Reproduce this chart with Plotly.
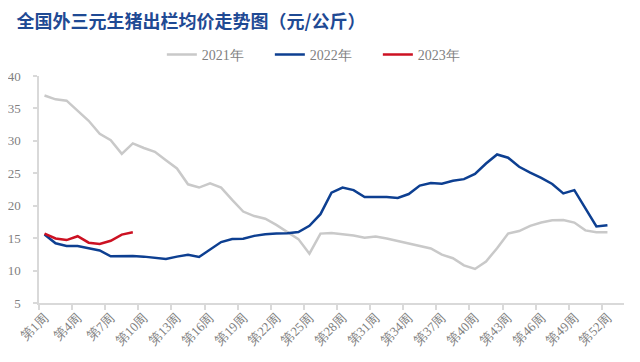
import plotly.graph_objects as go

weeks = list(range(1, 53))
tick_weeks = list(range(1, 53, 3))
tick_labels = [f"第{w}周" for w in tick_weeks]

y2021 = [37.0, 36.4, 36.2, 34.7, 33.1, 31.1, 30.1, 28.0, 29.6, 28.9,
         28.3, 27.0, 25.75, 23.3, 22.8, 23.45, 22.8, 20.9, 19.1, 18.4,
         18.0, 17.05, 15.9, 14.85, 12.6, 15.7, 15.8, 15.6, 15.4, 15.05,
         15.25, 14.95, 14.55, 14.2, 13.7, 13.4, 12.45, 11.9, 10.8, 10.25,
         11.4, 13.45, 15.7, 16.1, 16.9, 17.4, 17.75, 17.8, 17.4, 16.2,
         15.9, 15.9]
y2022 = [15.55, 14.2, 13.8, 13.8, 13.45, 13.1, 12.2, 12.25, 12.25, 12.15,
         12.0, 11.8, 12.15, 12.45, 12.1, 13.2, 14.4, 14.85, 14.9, 15.35,
         15.6, 15.7, 15.75, 15.95, 16.9, 18.7, 22.0, 22.8, 22.4, 21.35,
         21.35, 21.35, 21.2, 21.8, 23.1, 23.5, 23.4, 23.85, 24.1, 24.9,
         26.5, 27.9, 27.4, 26.0, 25.1, 24.3, 23.35, 21.9, 22.4, 19.5,
         16.8, 17.0]
y2023 = [15.7, 14.95, 14.7, 15.3, 14.3, 14.1, 14.6, 15.55, 15.9]

series = [("2021年", y2021, "#c9c9c9"),
          ("2022年", y2022, "#0d3f91"),
          ("2023年", y2023, "#cc1122")]

fig = go.Figure()
for name, ys, col in series:
    fig.add_trace(go.Scatter(x=weeks[:len(ys)], y=ys, mode="lines", name=name,
                             line=dict(color=col, width=2.5)))

# faint watermark, one line of text
wm = ("<span style='color:rgba(200,40,40,0.08)'><b>我的</b></span>"
      "<span style='color:rgba(40,70,160,0.08)'><b>钢铁</b></span> "
      "<span style='color:rgba(0,0,0,0.05)'><b>Mysteel.com</b></span>")
fig.add_annotation(x=28.0, y=21.5, xref="x", yref="y", text=wm, showarrow=False,
                   font=dict(family="Noto Sans CJK SC", size=22, color="rgba(0,0,0,0.05)"))

# the page body adds an 8px offset; margins compensate for it
axis_font = dict(family="Liberation Serif", size=13, color="#7f7f7f")
fig.update_layout(
    width=640, height=362,
    margin=dict(l=31, r=24, t=67.5, b=66.5, pad=0, autoexpand=False),
    paper_bgcolor="white", plot_bgcolor="white",
    title=dict(text="<b>全国外三元生猪出栏均价走势图（元/公斤）</b>",
               x=8.5/640, xref="container", xanchor="left",
               y=1-14/362, yref="container", yanchor="middle",
               font=dict(family="Noto Sans CJK SC", size=18, color="#1f4a94")),
    legend=dict(orientation="h", x=0.21, xanchor="left",
                y=1-47/362, yref="container", yanchor="middle",
                font=dict(family="Liberation Serif", size=14, color="#7f7f7f"),
                entrywidth=63, entrywidthmode="pixels",
                bgcolor="rgba(0,0,0,0)"),
    showlegend=True,
)
fig.update_xaxes(range=[0.5, 53.5], tickmode="array", tickvals=tick_weeks,
                 ticktext=tick_labels, ticks="", tickangle=-45,
                 tickfont=axis_font, showgrid=False, zeroline=False,
                 showline=True, linecolor="#d9d9d9", linewidth=1.5, automargin=False,
                 minor=dict(tickmode="array", tickvals=[0.5 + 3*k for k in range(18)],
                            ticks="outside", ticklen=5, tickcolor="#d9d9d9", tickwidth=1.5,
                            showgrid=False))
fig.update_yaxes(range=[5, 40], tickmode="array", tickvals=list(range(5, 41, 5)),
                 ticks="outside", ticklen=4, tickcolor="#d9d9d9", tickwidth=1.5,
                 tickfont=axis_font, showgrid=False, zeroline=False, automargin=False,
                 ticklabelstandoff=10,
                 showline=True, linecolor="#d9d9d9", linewidth=1.5)

fig.write_html("out.html")
